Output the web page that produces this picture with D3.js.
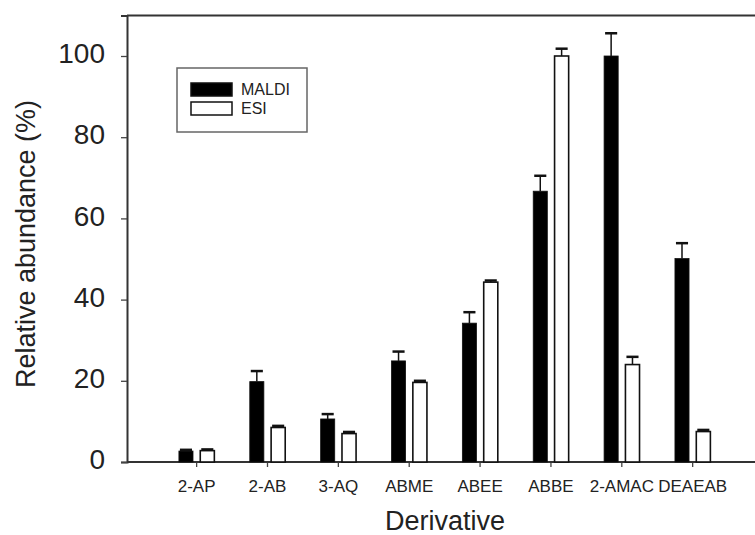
<!DOCTYPE html>
<html>
<head>
<meta charset="utf-8">
<script src="https://cdn.jsdelivr.net/npm/d3@7"></script>
<style>
  html, body { margin: 0; background: #fff; overflow: hidden; }
  svg { display: block; }
  text { font-family: "Liberation Sans", Arial, sans-serif; fill: #222; }
</style>
</head>
<body>
<script>
// data
const derivatives = ["2-AP", "2-AB", "3-AQ", "ABME", "ABEE", "ABBE", "2-AMAC", "DEAEAB"];
const seriesNames = ["MALDI", "ESI"];
const maldiValues = [2.7, 19.8, 10.6, 24.9, 34.2, 66.7, 100, 50.1];
const maldiErrors = [0.3, 2.6, 1.2, 2.3, 2.7, 3.8, 5.6, 3.8];
const esiValues = [2.8, 8.5, 7.0, 19.6, 44.3, 100, 24.0, 7.5];
const esiErrors = [0.3, 0.4, 0.4, 0.4, 0.4, 1.8, 1.9, 0.4];
const yTicks = [0, 20, 40, 60, 80, 100];

const width = 755;
const height = 535;

const svg = d3.select("body").append("svg")
    .attr("width", width)
    .attr("height", height);

// scales
const y = d3.scaleLinear().domain([0, 110]).range([462, 15.4]);
const x0 = d3.scaleBand()
    .domain(derivatives)
    .range([161.2, 728.1])
    .paddingInner(0.5)
    .paddingOuter(0.25);
const x1 = d3.scaleBand()
    .domain(seriesNames)
    .range([0, x0.bandwidth()])
    .paddingInner(0.34);

const axisX = 127;

// frame top line (plot is cut off on the right)
svg.append("path")
    .attr("d", `M${axisX},${y(110)}H${width + 10}`)
    .attr("fill", "none")
    .attr("stroke", "#333").attr("stroke-width", 2);

// y axis
const yAxis = svg.append("g")
    .attr("transform", `translate(${axisX},0)`)
    .call(d3.axisLeft(y).tickValues(yTicks).tickSize(6).tickPadding(16));
yAxis.select(".domain").attr("stroke", "#333").attr("stroke-width", 2);
yAxis.selectAll(".tick line").attr("stroke", "#444").attr("stroke-width", 1.3);
yAxis.selectAll(".tick text")
    .attr("font-size", "28px")
    .attr("dy", "0.24em")
    .style("font-family", "'Liberation Sans', Arial, sans-serif")
    .attr("fill", "#222");

// x axis
const xAxis = svg.append("g")
    .attr("transform", `translate(0,${y(0)})`)
    .call(d3.axisBottom(x0).tickSize(5).tickPadding(13).tickSizeOuter(0));
xAxis.select(".domain").remove();
xAxis.selectAll(".tick line").attr("stroke", "#444").attr("stroke-width", 1.3);
xAxis.selectAll(".tick text")
    .attr("font-size", "17px")
    .style("font-family", "'Liberation Sans', Arial, sans-serif")
    .attr("fill", "#222");
svg.append("path")
    .attr("d", `M${axisX},${y(0)}H${width + 10}`)
    .attr("fill", "none")
    .attr("stroke", "#333").attr("stroke-width", 2);

// bars
const rows = derivatives.map((d, i) => [
    {cat: d, key: "MALDI", value: maldiValues[i], err: maldiErrors[i]},
    {cat: d, key: "ESI", value: esiValues[i], err: esiErrors[i]}
]).flat();

const bars = svg.append("g");
bars.selectAll("rect")
    .data(rows)
    .join("rect")
    .attr("x", d => x0(d.cat) + x1(d.key))
    .attr("y", d => y(d.value))
    .attr("width", x1.bandwidth())
    .attr("height", d => y(0) - y(d.value))
    .attr("fill", d => d.key === "MALDI" ? "#000" : "#fff")
    .attr("stroke", "#111")
    .attr("stroke-width", d => d.key === "MALDI" ? 0.8 : 1.6);

// error bars (upper only)
const errs = svg.append("g").attr("stroke", "#111");
errs.selectAll("line.stem")
    .data(rows)
    .join("line")
    .attr("class", "stem")
    .attr("x1", d => x0(d.cat) + x1(d.key) + x1.bandwidth() / 2)
    .attr("x2", d => x0(d.cat) + x1(d.key) + x1.bandwidth() / 2)
    .attr("y1", d => y(d.value))
    .attr("y2", d => y(d.value + d.err))
    .attr("stroke-width", 1.5);
errs.selectAll("line.cap")
    .data(rows)
    .join("line")
    .attr("class", "cap")
    .attr("x1", d => x0(d.cat) + x1(d.key) + 1)
    .attr("x2", d => x0(d.cat) + x1(d.key) + x1.bandwidth() - 1)
    .attr("y1", d => y(d.value + d.err))
    .attr("y2", d => y(d.value + d.err))
    .attr("stroke-width", 2.5);

// legend
const legend = svg.append("g");
legend.append("rect")
    .attr("x", 177).attr("y", 68)
    .attr("width", 130).attr("height", 64)
    .attr("fill", "#fff")
    .attr("stroke", "#666").attr("stroke-width", 1.5);
seriesNames.forEach((name, i) => {
    legend.append("rect")
        .attr("x", 191).attr("y", 83 + i * 19)
        .attr("width", 41).attr("height", 13)
        .attr("fill", name === "MALDI" ? "#000" : "#fff")
        .attr("stroke", "#111").attr("stroke-width", 1.5);
    legend.append("text")
        .attr("x", 241).attr("y", 95 + i * 19)
        .attr("font-size", "16px")
        .text(name);
});

// axis titles
svg.append("text")
    .attr("x", 445).attr("y", 530)
    .attr("text-anchor", "middle")
    .attr("font-size", "27px")
    .text("Derivative");

svg.append("text")
    .attr("transform", "translate(35,244) rotate(-90)")
    .attr("text-anchor", "middle")
    .attr("font-size", "27px")
    .text("Relative abundance (%)");
</script>
</body>
</html>
